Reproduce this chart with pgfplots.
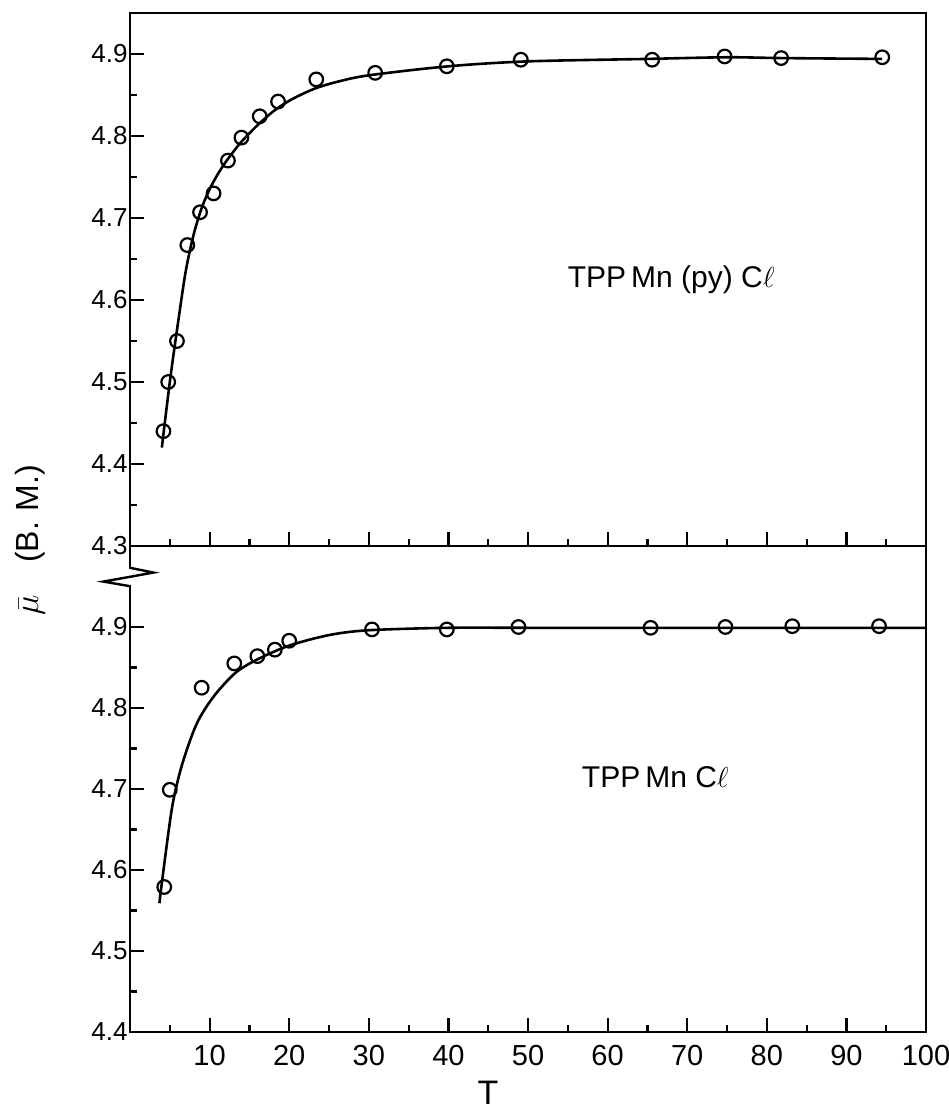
\documentclass[border=0pt]{standalone}
\usepackage{fontspec}
\setmainfont{Liberation Sans}
\usepackage{pgfplots}
\pgfplotsset{compat=1.18}
\pgfplotsset{
  myaxis/.style={
    scale only axis, width=398pt,
    xmin=0, xmax=100,
    axis line style={line width=1.4pt},
    tick align=inside,
    xtick pos=bottom, ytick pos=left,
    xtick={10,20,30,40,50,60,70,80,90,100},
    minor xtick={5,15,25,35,45,55,65,75,85,95},
    major tick length=7pt, minor tick length=3.5pt,
    tick style={black, line width=1.1pt},
    yticklabel style={font=\fontsize{13}{13}\selectfont, inner sep=1pt},
    xticklabel style={font=\fontsize{14.5}{14.5}\selectfont, yshift=-3pt},
    clip=false,
  },
  fitline/.style={black, line width=1.3pt, smooth, tension=0.5, no marks},
  pts/.style={only marks, mark=o, mark size=3.4pt, mark options={fill=white, draw=black, line width=1.1pt}},
}
\begin{document}
\begin{tikzpicture}[x=1pt,y=1pt]
\useasboundingbox (0,0) rectangle (474,555.5);
% ---------- top panel: TPP Mn (py) Cl ----------
\begin{axis}[myaxis, at={(65pt,282.5pt)}, anchor=south west, height=266.5pt,
  ymin=4.3, ymax=4.95,
  ytick={4.3,4.4,4.5,4.6,4.7,4.8,4.9},
  yticklabels={4.3,4.4,4.5,4.6,4.7,4.8,4.9},
  minor ytick={4.35,4.45,4.55,4.65,4.75,4.85},
  xticklabels={}]
\addplot[fitline] coordinates {
 (4.0,4.42) (5.0,4.50) (6.0,4.57) (7.0,4.635) (8.0,4.68) (9.0,4.712) (10,4.735)
 (11,4.753) (12,4.768) (13,4.781) (14,4.793) (16,4.813) (18,4.830) (20,4.843)
 (23,4.857) (26,4.866) (30,4.874) (40,4.885) (50,4.891) (65,4.894) (75,4.896)
 (82,4.895) (94.5,4.894)};
\addplot[pts] coordinates {
 (4.2,4.44) (4.8,4.50) (5.9,4.55) (7.2,4.667) (8.8,4.707) (10.5,4.730)
 (12.3,4.770) (14.0,4.798) (16.3,4.824) (18.6,4.842) (23.4,4.869) (30.8,4.877)
 (39.8,4.885) (49.1,4.893) (65.6,4.893) (74.7,4.897) (81.8,4.895) (94.5,4.896)};
\node[font=\fontsize{15}{15}\selectfont] at (axis cs:68,4.625) {TPP\,Mn (py) C$\ell$};
\end{axis}
% ---------- bottom panel: TPP Mn Cl ----------
\begin{axis}[myaxis, at={(65pt,39.5pt)}, anchor=south west, height=243pt,
  ymin=4.4, ymax=5.0,
  ytick={4.4,4.5,4.6,4.7,4.8,4.9},
  yticklabels={4.4,4.5,4.6,4.7,4.8,4.9},
  minor ytick={4.45,4.55,4.65,4.75,4.85},
  xticklabels={10,20,30,40,50,60,70,80,90,100}]
\addplot[fitline] coordinates {
 (3.7,4.559) (4.0,4.584) (5.3,4.678) (6.6,4.732) (8.4,4.781) (10.5,4.814)
 (13.2,4.843) (16,4.860) (20,4.877) (25,4.890) (30,4.896) (40,4.899)
 (50,4.899) (65,4.899) (75,4.899) (83,4.899) (94,4.899) (100,4.899)};
\addplot[pts] coordinates {
 (4.3,4.579) (5.0,4.699) (9.0,4.825) (13.1,4.855) (16.0,4.864) (18.2,4.872)
 (20.0,4.883) (30.4,4.897) (39.8,4.897) (48.8,4.900) (65.4,4.899) (74.8,4.900)
 (83.2,4.901) (94.1,4.901)};
\node[font=\fontsize{15}{15}\selectfont] at (axis cs:66,4.715) {TPP\,Mn C$\ell$};
\end{axis}
% axis break on the left axis
\fill[white] (62.5,262.9) rectangle (67.5,271.0);
\draw[line width=1.2pt, line join=miter] (65,271.6) -- (76.7,269.2) -- (51.7,264.7) -- (65,262.4);
% axis labels
\node[rotate=90, font=\fontsize{16}{16}\selectfont] at (15,285.5) {$\bar{\mu}$\quad(B.\,\,M.)};
\node[font=\fontsize{17}{17}\selectfont] at (244,9) {T};
\end{tikzpicture}
\end{document}
